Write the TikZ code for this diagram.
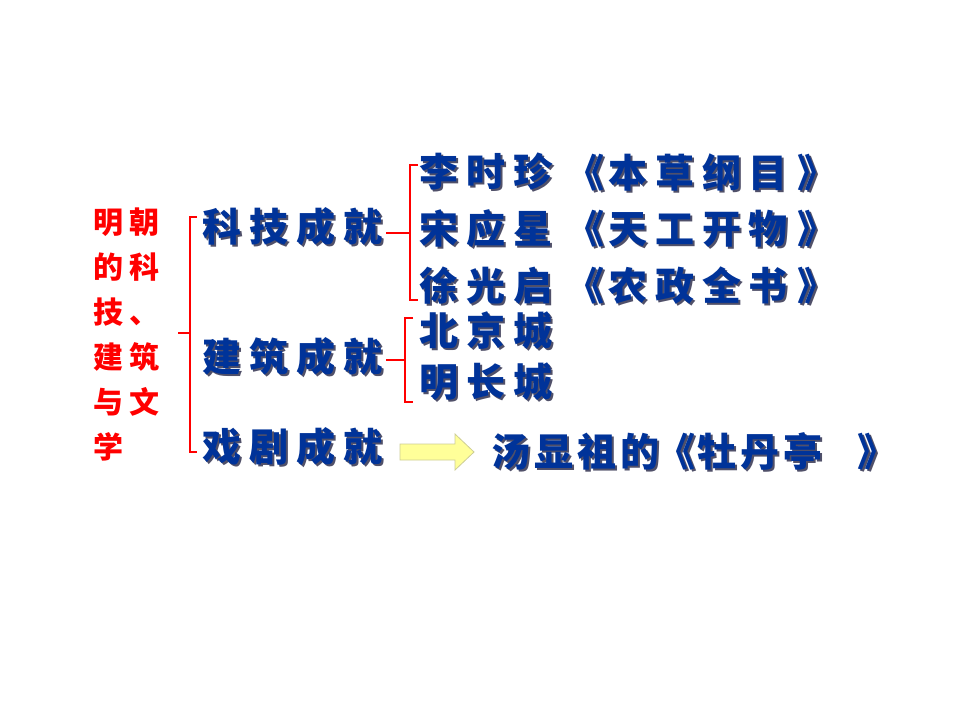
\documentclass[tikz,border=0pt]{standalone}
\usepackage{fontspec}
\newfontfamily\cjk{Noto Sans CJK SC}
\IfFontExistsTF{Noto Sans CJK SC Black}{\newfontfamily\cjkb{Noto Sans CJK SC Black}}{\newcommand\cjkb{\cjk\bfseries}}
\makeatletter
\newcommand\spreadtext[2]{\@tfor\cc:=#2\do{\makebox[#1]{\cc}}}
\makeatother
\definecolor{txtblue}{RGB}{0,51,153}
\definecolor{shade}{RGB}{80,80,105}
\definecolor{arrfill}{RGB}{255,255,153}
\definecolor{arrline}{RGB}{205,205,150}
% text with a drop shadow
\newcommand\shadowed[1]{\makebox[0pt][l]{\hspace{2pt}\raisebox{-2pt}{\color{shade}#1}}#1}
\newcommand\book[3]{\makebox[34pt][r]{《}\spreadtext{46.7pt}{#1}\makebox[#2pt][r]{》}}
\begin{document}
\begin{tikzpicture}[x=1pt,y=-1pt,
  bluet/.style={font=\cjkb\fontsize{39}{39}\selectfont, text=txtblue, inner sep=0pt, anchor=west},
  redt/.style={font=\cjk\bfseries\fontsize{30}{45}\selectfont, text=red, align=left, inner sep=0pt},
  brace/.style={draw=red, line width=1.8pt},
  arrowshape/.style={fill=arrfill, draw=arrline, line width=0.8pt}]
\path[use as bounding box, fill=white] (0,0) rectangle (960,720);

% title
\node[redt] (title) at (126.5,334.5) {\spreadtext{37pt}{明朝}\\\spreadtext{37pt}{的科}\\\spreadtext{37pt}{技、}\\\spreadtext{37pt}{建筑}\\\spreadtext{37pt}{与文}\\\spreadtext{37pt}{学}};

% level 1
\node[bluet] (k1) at (198,228) {\shadowed{\spreadtext{47pt}{科技成就}}};
\node[bluet] (k2) at (198,358) {\shadowed{\spreadtext{47pt}{建筑成就}}};
\node[bluet] (k3) at (198,448) {\shadowed{\spreadtext{47pt}{戏剧成就}}};

% science
\node[bluet] (a1) at (415,173) {\shadowed{\spreadtext{47pt}{李时珍}}};
\node[bluet] (a2) at (415,230) {\shadowed{\spreadtext{47pt}{宋应星}}};
\node[bluet] (a3) at (415,287) {\shadowed{\spreadtext{47pt}{徐光启}}};
\node[bluet] (b1) at (570.6,173) {\shadowed{\book{本草纲目}{45}{}}};
\node[bluet] (b2) at (570.6,230) {\shadowed{\book{天工开物}{45}{}}};
\node[bluet] (b3) at (570.6,287) {\shadowed{\book{农政全书}{45}{}}};

% architecture
\node[bluet] (c1) at (415,332) {\shadowed{\spreadtext{47pt}{北京城}}};
\node[bluet] (c2) at (415,383) {\shadowed{\spreadtext{47pt}{明长城}}};

% drama
\node[bluet] (t) at (489,452) {\shadowed{\spreadtext{43pt}{汤显祖的}\makebox[34pt][r]{《}\spreadtext{43pt}{牡丹亭}\makebox[72pt][r]{》}}};

% braces
\coordinate (m0) at (178,333);
\coordinate (m1) at (190,333);
\draw[brace] (197,217) -- (190,217) -- (190,452) -- (197,452);
\draw[brace] (m0) -- (m1);

\coordinate (s1) at (410,233);
\draw[brace] (418,165) -- (410,165) -- (410,300) -- (418,300);
\draw[brace] (k1.east |- s1) -- (s1);

\coordinate (s2) at (405,360);
\draw[brace] (413,318) -- (405,318) -- (405,402) -- (413,402);
\draw[brace] (k2.east |- s2) -- (s2);

% arrow
\coordinate (arr) at (400,452);
\draw[arrowshape, shift={(arr)}] (0,-8) -- (55,-8) -- (55,-18) -- (74,0) -- (55,18) -- (55,8) -- (0,8) -- cycle;
\end{tikzpicture}
\end{document}
